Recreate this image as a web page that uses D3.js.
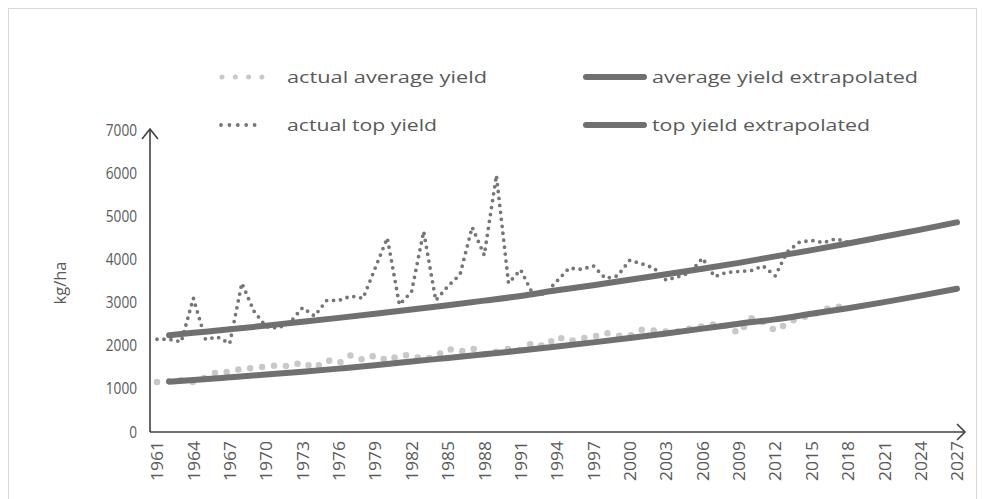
<!DOCTYPE html>
<html><head><meta charset="utf-8">
<script src="https://cdn.jsdelivr.net/npm/d3@7/dist/d3.min.js"></script>
<style>body{margin:0;background:#fff}svg{display:block}</style>
</head><body><svg id="c" width="982" height="499"></svg>
<script>
// ---- data ----
const actualYears = [1961,1962,1963,1964,1965,1966,1967,1968,1969,1970,1971,1972,1973,1974,1975,1976,1977,1978,1979,1980,
  1981,1982,1983,1984,1985,1986,1987,1988,1989,1990,1991,1992,1993,1994,1995,1996,1997,1998,1999,2000,
  2001,2002,2003,2004,2005,2006,2007,2008,2009,2010,2011,2012,2013,2014,2015,2016,2017,2018];
const actualAverage = [1160,1180,1200,1160,1260,1400,1390,1470,1480,1520,1540,1520,1620,1480,1670,1590,1780,1670,1780,1650,
  1780,1780,1680,1760,1930,1860,1940,1800,1860,1930,1900,2070,1980,2210,2100,2170,2200,2300,2230,2230,
  2370,2350,2330,2330,2400,2450,2500,2450,2290,2640,2550,2350,2520,2650,2700,2830,2920,2850];
const actualTop = [2150,2150,2090,3100,2150,2200,2050,3450,2800,2440,2410,2550,2880,2690,3050,3050,3150,3100,3800,4500,
  2950,3250,4650,3050,3380,3650,4750,4100,5950,3450,3760,3200,3200,3500,3800,3770,3850,3560,3620,3980,
  3900,3800,3520,3600,3700,4030,3600,3700,3720,3740,3850,3620,4180,4400,4440,4390,4480,4400];
const trendYears = [1962,1964,1967,1970,1973,1976,1979,1982,1985,1988,1991,1994,1997,2000,2003,2006,2009,2012,2015,2018,2021,2024,2027];
const averageTrend = [1167,1206,1268,1331,1398,1469,1545,1636,1716,1800,1888,1980,2077,2178,2285,2396,2510,2610,2740,2870,3010,3160,3320];
const topTrend = [2245,2299,2380,2466,2554,2645,2740,2838,2940,3045,3154,3285,3400,3530,3655,3785,3920,4070,4215,4370,4530,4690,4860];
const xTickLabels = ["1961","1964","1967","1970","1973","1976","1979","1982","1985","1988","1991","1994","1997","2000","2003","2006","2009","2012","2015","2018","2021","2024","2027"];
const yTickValues = [0,1000,2000,3000,4000,5000,6000,7000];
const seriesNames = ["actual average yield","average yield extrapolated","actual top yield","top yield extrapolated"];
const yAxisTitle = "kg/ha";

// ---- styles ----
const FONT = "'Open Sans', sans-serif";
const TXT = "#595959";
const AXIS = "#404040";
const styles = {
  avgDots: {stroke:"#c8c8c8", width:6.5, dash:"0,12"},
  topDots: {stroke:"#767676", width:3.8, dash:"0,7"},
  trend:   {stroke:"#707070", width:6, dash:null}
};

const svg = d3.select("#c");
svg.append("rect").attr("x",8.5).attr("y",8.5).attr("width",968).attr("height",500)
  .attr("fill","#fff").attr("stroke","#d9d9d9").attr("stroke-width",1);

const x = d3.scaleLinear().domain([1961,2027]).range([157,957]);
const y = d3.scaleLinear().domain([0,7000]).range([432,130]);

// y axis labels
const yAxis = svg.append("g").attr("transform","translate(150,0)")
  .call(d3.axisLeft(y).tickValues(yTickValues).tickSize(0).tickPadding(13).tickFormat(d3.format("d")));
yAxis.select(".domain").remove();
yAxis.selectAll("text").attr("font-family",FONT).attr("font-size",16).attr("fill",TXT)
  .attr("textLength", d => String(d).length * 7.8).attr("lengthAdjust","spacingAndGlyphs");

// x axis labels
const xAxis = svg.append("g").attr("transform","translate(0,432)")
  .call(d3.axisBottom(x).tickValues(xTickLabels.map(Number)).tickSize(0).tickFormat(d3.format("d")));
xAxis.select(".domain").remove();
xAxis.selectAll("text").attr("font-family",FONT).attr("font-size",16).attr("fill",TXT)
  .attr("text-anchor","end").attr("transform","translate(0,9) rotate(-90)")
  .attr("x",0).attr("y",0).attr("dy","0.36em")
  .attr("textLength",40).attr("lengthAdjust","spacingAndGlyphs");

// axis lines with arrows
const axisG = svg.append("g").attr("fill","none").attr("stroke",AXIS).attr("stroke-width",1.6);
axisG.append("path").attr("d", `M150,${y(0)}H965`);
axisG.append("path").attr("d", `M957,${y(0)-8}L965,${y(0)}L957,${y(0)+8}`);
axisG.append("path").attr("d", `M150,${y(0)}V129`);
axisG.append("path").attr("d", `M142,139L150,129L158,139`);

// y title
svg.append("text").attr("transform","translate(66,283) rotate(-90)")
  .attr("text-anchor","middle").attr("font-family",FONT).attr("font-size",16).attr("fill",TXT)
  .attr("textLength",43).attr("lengthAdjust","spacingAndGlyphs").text(yAxisTitle);

// series
const line = d3.line().x(d=>x(d[0])).y(d=>y(d[1]));
const smooth = d3.line().x(d=>x(d[0])).y(d=>y(d[1])).curve(d3.curveMonotoneX);
function draw(gen, data, st){
  const p = svg.append("path").datum(data).attr("d",gen).attr("fill","none")
    .attr("stroke",st.stroke).attr("stroke-width",st.width).attr("stroke-linecap","round").attr("stroke-linejoin","round");
  if (st.dash) p.attr("stroke-dasharray",st.dash);
}
draw(line, actualYears.map((yr,i)=>[yr,actualAverage[i]]), styles.avgDots);
draw(line, actualYears.map((yr,i)=>[yr,actualTop[i]]), styles.topDots);
draw(smooth, trendYears.map((yr,i)=>[yr,averageTrend[i]]), styles.trend);
draw(smooth, trendYears.map((yr,i)=>[yr,topTrend[i]]), styles.trend);

// legend
const legendItems = [
  {name:seriesNames[0], st:styles.avgDots, sx:222, sw:40, tx:287, cy:77,  tl:200},
  {name:seriesNames[1], st:styles.trend,   sx:586, sw:58, tx:652, cy:77,  tl:266},
  {name:seriesNames[2], st:styles.topDots, sx:221, sw:42, tx:287, cy:125, tl:150},
  {name:seriesNames[3], st:styles.trend,   sx:586, sw:58, tx:652, cy:125, tl:218}
];
const lg = svg.append("g");
legendItems.forEach(it=>{
  const p = lg.append("path").attr("d",`M${it.sx},${it.cy}h${it.sw}`).attr("fill","none")
    .attr("stroke",it.st.stroke).attr("stroke-width",it.st===styles.avgDots?5:it.st.width).attr("stroke-linecap","round");
  if (it.st.dash) p.attr("stroke-dasharray", it.st === styles.avgDots ? "0,13.3" : "0,8.4");
  lg.append("text").attr("x",it.tx).attr("y",it.cy).attr("dy","0.35em")
    .attr("font-family",FONT).attr("font-size",17).attr("fill",TXT)
    .attr("textLength",it.tl).attr("lengthAdjust","spacingAndGlyphs").text(it.name);
});
</script></body></html>
